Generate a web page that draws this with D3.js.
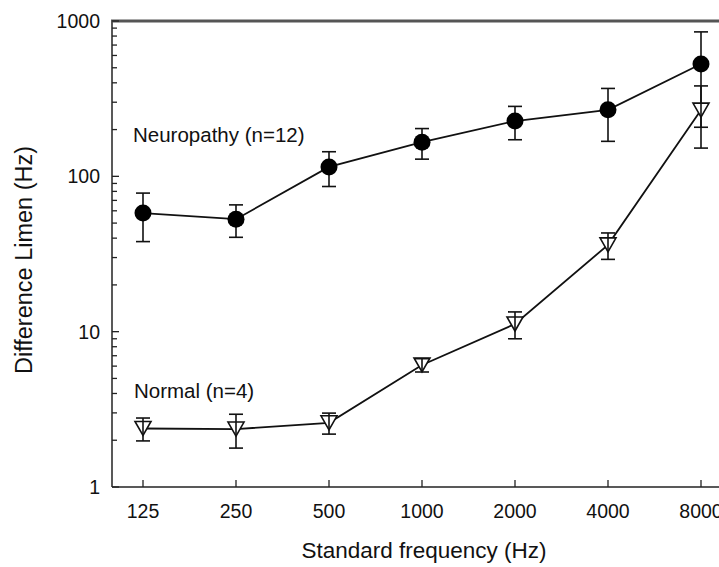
<!DOCTYPE html>
<html>
<head>
<meta charset="utf-8">
<script src="https://cdn.jsdelivr.net/npm/d3@7"></script>
<style>
  body { margin: 0; background: #fff; }
  svg { display: block; font-family: "Liberation Sans", Arial, sans-serif; }
</style>
</head>
<body>
<div id="chart"></div>
<script>
// standard frequencies (Hz)
var freqs = [125, 250, 500, 1000, 2000, 4000, 8000];
var freqLabels = ["125", "250", "500", "1000", "2000", "4000", "8000"];

// difference limen (Hz), means and error (+/-)
var neuroMean = [58, 53, 115, 166, 227, 268, 529];
var neuroErr = [20, 12.5, 29, 37, 55, 100, 322];
var normalMean = [2.38, 2.36, 2.59, 6.1, 11.2, 36.2, 267];
var normalErr = [0.4, 0.58, 0.4, 0.6, 2.2, 7, 115];

var yTicks = [1, 10, 100, 1000];
var seriesLabels = ["Neuropathy (n=12)", "Normal (n=4)"];

var W = 719, H = 567;
var svg = d3.select("#chart").append("svg").attr("width", W).attr("height", H);

var x = d3.scaleLog().base(2).domain([125, 8000]).range([143, 701]);
var y = d3.scaleLog().domain([1, 1000]).range([487, 21]);
var left = 112, right = W;

// frame: left axis, bottom axis, top border
svg.append("line").attr("x1", left).attr("x2", left).attr("y1", y(1000)).attr("y2", y(1))
    .attr("stroke", "#222").attr("stroke-width", 1.5);
svg.append("line").attr("x1", left).attr("x2", right).attr("y1", y(1)).attr("y2", y(1))
    .attr("stroke", "#222").attr("stroke-width", 1.5);
svg.append("line").attr("x1", left - 1).attr("x2", right).attr("y1", y(1000)).attr("y2", y(1000))
    .attr("stroke", "#555").attr("stroke-width", 3);

// y ticks (inward), major + minor
var minor = [];
[1, 10, 100].forEach(function (d) {
    for (var k = 2; k <= 9; k++) minor.push(d * k);
});
svg.selectAll("line.ymin").data(minor).enter().append("line").attr("class", "ymin")
    .attr("x1", left).attr("x2", left + 5)
    .attr("y1", function (d) { return y(d); }).attr("y2", function (d) { return y(d); })
    .attr("stroke", "#222").attr("stroke-width", 1.3);
svg.selectAll("line.ymaj").data(yTicks).enter().append("line").attr("class", "ymaj")
    .attr("x1", left).attr("x2", left + 7)
    .attr("y1", function (d) { return y(d); }).attr("y2", function (d) { return y(d); })
    .attr("stroke", "#222").attr("stroke-width", 1.3);
svg.selectAll("text.ylab").data(yTicks).enter().append("text").attr("class", "ylab")
    .attr("x", 100).attr("y", function (d) { return y(d) + 7; })
    .attr("text-anchor", "end").attr("font-size", 19.5).attr("fill", "#111")
    .text(function (d) { return d; });

// x ticks (inward)
svg.selectAll("line.xt").data(freqs).enter().append("line").attr("class", "xt")
    .attr("x1", function (d) { return x(d); }).attr("x2", function (d) { return x(d); })
    .attr("y1", y(1)).attr("y2", y(1) - 7)
    .attr("stroke", "#222").attr("stroke-width", 1.3);
svg.selectAll("text.xlab").data(freqs).enter().append("text").attr("class", "xlab")
    .attr("x", function (d) { return x(d); }).attr("y", 518)
    .attr("text-anchor", "middle").attr("font-size", 19.5).attr("fill", "#111")
    .text(function (d, i) { return freqLabels[i]; });

// axis titles
svg.append("text").attr("x", 424).attr("y", 558).attr("text-anchor", "middle")
    .attr("font-size", 22.5).attr("fill", "#111").text("Standard frequency (Hz)");
svg.append("text").attr("transform", "translate(32,260) rotate(-90)").attr("text-anchor", "middle")
    .attr("font-size", 23.5).attr("fill", "#111").text("Difference Limen (Hz)");

// series
function series(mean, err) {
    return freqs.map(function (f, i) { return { f: f, m: mean[i], e: err[i] }; });
}
var neuro = series(neuroMean, neuroErr);
var normal = series(normalMean, normalErr);

var line = d3.line().x(function (d) { return x(d.f); }).y(function (d) { return y(d.m); });

function errorBars(data, cls) {
    var g = svg.append("g").attr("class", cls).attr("stroke", "#111").attr("stroke-width", 1.6);
    var e = g.selectAll("g").data(data).enter().append("g");
    e.append("line")
        .attr("x1", function (d) { return x(d.f); }).attr("x2", function (d) { return x(d.f); })
        .attr("y1", function (d) { return y(d.m + d.e); }).attr("y2", function (d) { return y(d.m - d.e); });
    e.append("line")
        .attr("x1", function (d) { return x(d.f) - 7; }).attr("x2", function (d) { return x(d.f) + 7; })
        .attr("y1", function (d) { return y(d.m + d.e); }).attr("y2", function (d) { return y(d.m + d.e); });
    e.append("line")
        .attr("x1", function (d) { return x(d.f) - 7; }).attr("x2", function (d) { return x(d.f) + 7; })
        .attr("y1", function (d) { return y(d.m - d.e); }).attr("y2", function (d) { return y(d.m - d.e); });
}

svg.append("path").datum(neuro).attr("d", line).attr("fill", "none").attr("stroke", "#111").attr("stroke-width", 1.8);
svg.append("path").datum(normal).attr("d", line).attr("fill", "none").attr("stroke", "#111").attr("stroke-width", 1.8);

errorBars(neuro, "err-neuro");
svg.selectAll("circle.neuro").data(neuro).enter().append("circle").attr("class", "neuro")
    .attr("cx", function (d) { return x(d.f); }).attr("cy", function (d) { return y(d.m); })
    .attr("r", 8.5).attr("fill", "#000");

svg.selectAll("path.normal").data(normal).enter().append("path").attr("class", "normal")
    .attr("d", function (d) {
        var cx = x(d.f), cy = y(d.m);
        return "M" + (cx - 8) + "," + (cy - 7) + "L" + (cx + 8) + "," + (cy - 7) + "L" + cx + "," + (cy + 7) + "Z";
    })
    .attr("fill", "#fff").attr("stroke", "#111").attr("stroke-width", 1.6);
errorBars(normal, "err-normal");

// series labels
svg.append("text").attr("x", 133).attr("y", 142).attr("font-size", 20.5).attr("fill", "#111").text(seriesLabels[0]);
svg.append("text").attr("x", 134).attr("y", 398).attr("font-size", 20.5).attr("fill", "#111").text(seriesLabels[1]);
</script>
</body>
</html>
